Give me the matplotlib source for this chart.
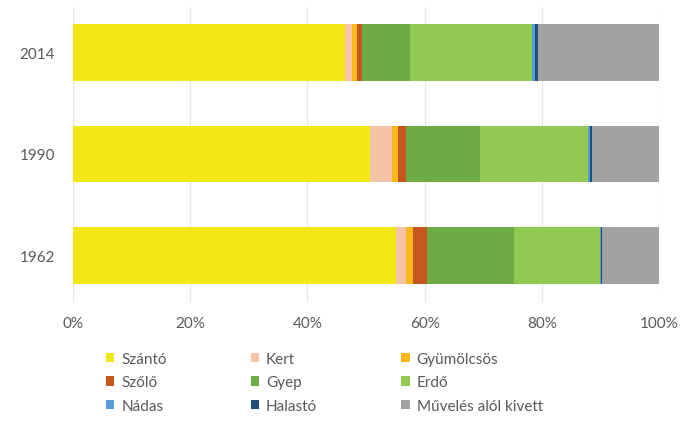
import matplotlib
matplotlib.use("Agg")
import matplotlib.pyplot as plt
import numpy as np

years = ["1962", "1990", "2014"]
categories = ["Szántó", "Kert", "Gyümölcsös", "Szőlő", "Gyep", "Erdő",
              "Nádas", "Halastó", "Művelés alól kivett"]
# shares (%) per year, order: 1962, 1990, 2014
szanto = [55.2, 50.7, 46.5]
kert = [1.6, 3.7, 1.1]
gyumolcsos = [1.25, 1.0, 0.85]
szolo = [2.4, 1.4, 0.95]
gyep = [14.8, 12.7, 8.1]
erdo = [14.7, 18.4, 20.8]
nadas = [0.2, 0.3, 0.55]
halasto = [0.05, 0.4, 0.55]
muveles = [9.8, 11.4, 20.6]
series = [szanto, kert, gyumolcsos, szolo, gyep, erdo, nadas, halasto, muveles]
colors = ["#F2E816", "#F5C3A6", "#F9B91C", "#C5571F", "#6FAB45",
          "#91C952", "#5B9BD5", "#1F4E79", "#A3A2A2"]
xticks = [0, 20, 40, 60, 80, 100]
xticklabels = ["0%", "20%", "40%", "60%", "80%", "100%"]

plt.rcParams['font.family'] = ['Lato', 'DejaVu Sans']
txt = "#595959"

fig = plt.figure(figsize=(6.84, 4.27), dpi=100)
ax = fig.add_axes([73/684, 1-303/427, (659-73)/684, (303-8)/427])

y = np.arange(len(years))
left = np.zeros(len(years))
tot = np.array([sum(s[i] for s in series) for i in range(len(years))])
handles = []
for vals, c, name in zip(series, colors, categories):
    v = np.array(vals) / tot * 100
    b = ax.barh(y, v, left=left, height=0.56, color=c, label=name, linewidth=0)
    handles.append(b)
    left += v

ax.set_xlim(0, 100)
ax.set_ylim(-0.46, 2.45)
ax.set_yticks(y)
ax.set_yticklabels(years)
ax.set_xticks(xticks)
ax.set_xticklabels(xticklabels)
ax.tick_params(axis='both', length=0, labelsize=11, colors=txt)
ax.tick_params(axis='x', pad=10)
ax.tick_params(axis='y', pad=13)
for s in ax.spines.values():
    s.set_visible(False)
ax.grid(axis='x', color="#E6E6E6", linewidth=0.8)
ax.set_axisbelow(True)

order = [0, 3, 6, 1, 4, 7, 2, 5, 8]
leg = fig.legend([handles[i] for i in order], [categories[i] for i in order],
                 ncol=3, loc='upper left', bbox_to_anchor=(106/684, 1-353/427),
                 frameon=False, fontsize=11, handlelength=0.55, handleheight=0.55,
                 handletextpad=0.45, columnspacing=5.5, labelspacing=0.62,
                 borderpad=0, borderaxespad=0)
for t in leg.get_texts():
    t.set_color(txt)

fig.savefig("out.png", dpi=100)
